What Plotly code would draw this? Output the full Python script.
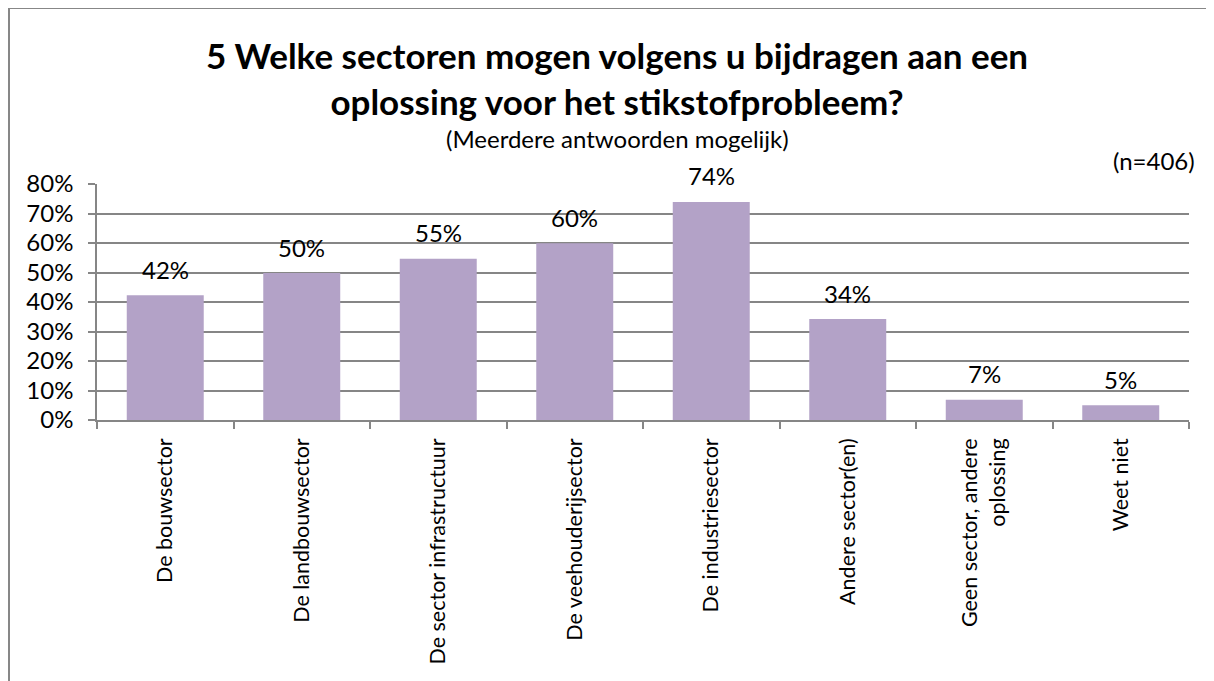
import plotly.graph_objects as go

categories = ["De bouwsector", "De landbouwsector", "De sector infrastructuur",
              "De veehouderijsector", "De industriesector", "Andere sector(en)",
              "Geen sector, andere<br>oplossing", "Weet niet"]
values = [42.3, 49.8, 54.7, 59.9, 73.9, 34.2, 6.9, 5.0]
y_ticks = [0, 10, 20, 30, 40, 50, 60, 70, 80]
y_tick_labels = [f"{v}%" for v in y_ticks]

FONT = "Lato, Calibri, sans-serif"
BAR = "#B3A2C7"
GRID = "#868686"

W, H = 1206, 673
L, R, T, B = 89, 25, 176, 261
PW, PH = W - L - R, H - T - B
title_x = (609 - L) / PW

fig = go.Figure()
fig.add_trace(go.Bar(x=categories, y=values, marker=dict(color=BAR, line=dict(width=0)),
                     hoverinfo="skip"))

for c, v in zip(categories, values):
    fig.add_annotation(x=c, y=v, text=f"{round(v)}%", showarrow=False,
                       yanchor="middle", yshift=26,
                       font=dict(family=FONT, size=24, color="#000"))

# title block (pixel offsets relative to top of plot area)
fig.add_annotation(xref="paper", yref="paper", x=title_x, y=1, xanchor="center", yanchor="middle",
                   yshift=T - 70, showarrow=False, align="center",
                   text="<b>5 Welke sectoren mogen volgens u bijdragen aan een<br>oplossing voor het stikstofprobleem?</b>",
                   font=dict(family=FONT, size=35, color="#000"))
fig.add_annotation(xref="paper", yref="paper", x=title_x, y=1, xanchor="center", yanchor="middle",
                   yshift=T - 130, showarrow=False,
                   text="(Meerdere antwoorden mogelijk)", font=dict(family=FONT, size=24, color="#000"))
fig.add_annotation(xref="paper", yref="paper", x=1, y=1, xanchor="right", yanchor="middle",
                   xshift=8, yshift=T - 152, showarrow=False,
                   text="(n=406)", font=dict(family=FONT, size=24, color="#000"))

fig.update_layout(
    width=W, height=H,
    margin=dict(l=L, r=R, t=T, b=B, autoexpand=False),
    paper_bgcolor="white", plot_bgcolor="white",
    bargap=0.436, showlegend=False,
    font=dict(family=FONT, size=24, color="#000"),
)

fig.update_xaxes(showline=True, linecolor=GRID, linewidth=1.5, ticks="outside", tickson="boundaries",
                 ticklen=7, tickcolor=GRID, tickwidth=1.5, tickangle=-90, showgrid=False,
                 ticklabelstandoff=8, tickfont=dict(family=FONT, size=21.5))
fig.update_yaxes(range=[0, 80], tickvals=y_ticks, ticktext=y_tick_labels, showline=True,
                 linecolor=GRID, linewidth=1.5, ticks="outside", ticklen=7, tickcolor=GRID,
                 tickwidth=1.5, ticklabelstandoff=10,
                 showgrid=True, gridcolor=GRID, gridwidth=1.5, zeroline=False,
                 tickfont=dict(family=FONT, size=24))

# outer chart frame (left and top edges visible; right/bottom run off the page)
fig.add_shape(type="rect", xref="paper", yref="paper", layer="above",
              x0=-(L - 1) / PW, x1=1 + (R + 20) / PW,
              y0=-(B + 20) / PH, y1=1 + T / PH,
              line=dict(color="#878787", width=2), fillcolor="rgba(0,0,0,0)")

fig.write_html("out.html")
